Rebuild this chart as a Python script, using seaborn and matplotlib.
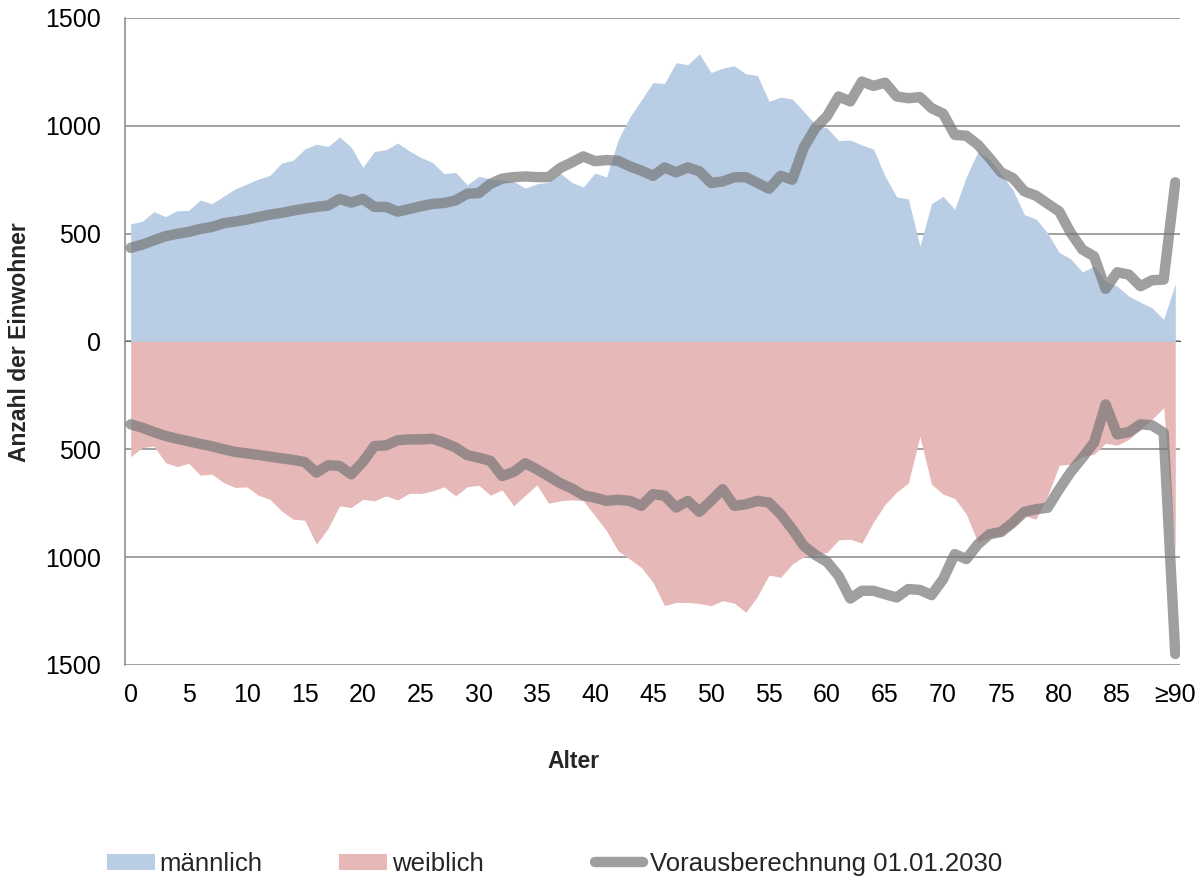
import matplotlib
matplotlib.use('Agg')
import matplotlib.pyplot as plt
import seaborn as sns
import numpy as np

# Einwohner je Altersjahr (0 .. >=90)
male = [545, 557, 602, 579, 606, 608, 656, 639, 673, 707,
        730, 753, 770, 827, 840, 892, 915, 904, 948, 901,
        807, 881, 889, 920, 884, 853, 830, 778, 784, 726,
        766, 753, 748, 742, 711, 731, 738, 781, 738, 716,
        781, 762, 935, 1040, 1120, 1200, 1197, 1293, 1283, 1334,
        1247, 1267, 1278, 1241, 1233, 1113, 1133, 1124, 1066, 1006,
        990, 931, 934, 911, 892, 766, 670, 661, 442, 639,
        673, 612, 764, 880, 845, 775, 704, 588, 568, 503,
        413, 383, 322, 349, 279, 256, 210, 182, 156, 102,
        269]
female = [534, 492, 485, 562, 580, 565, 620, 615, 654, 677,
          674, 713, 732, 786, 824, 829, 940, 867, 762, 770,
          732, 739, 716, 735, 704, 705, 693, 674, 716, 673,
          667, 713, 688, 762, 713, 665, 750, 739, 734, 739,
          808, 878, 971, 1009, 1048, 1117, 1225, 1210, 1210, 1215,
          1225, 1202, 1213, 1256, 1182, 1083, 1094, 1032, 998, 990,
          978, 920, 917, 935, 837, 755, 698, 657, 441, 662,
          708, 728, 801, 932, 909, 901, 863, 809, 824, 716,
          574, 569, 534, 523, 472, 481, 454, 407, 361, 307,
          980]
proj_male = [434, 449, 469, 488, 499, 508, 522, 531, 548, 556,
             565, 577, 588, 596, 607, 616, 624, 630, 661, 644,
             661, 624, 624, 602, 614, 627, 638, 642, 654, 685,
             688, 731, 755, 762, 765, 762, 762, 804, 830, 858,
             836, 841, 838, 812, 792, 768, 807, 784, 807, 789,
             735, 742, 761, 762, 735, 708, 768, 750, 900, 990,
             1045, 1136, 1113, 1205, 1185, 1200, 1136, 1128, 1133, 1082,
             1056, 958, 954, 912, 850, 784, 758, 696, 676, 639,
             603, 503, 426, 395, 244, 321, 310, 256, 284, 287,
             738]
proj_female = [384, 400, 420, 438, 451, 463, 475, 486, 500, 512,
               519, 526, 534, 542, 549, 559, 608, 574, 577, 616,
               559, 485, 482, 458, 454, 454, 451, 469, 492, 527,
               539, 554, 624, 605, 565, 593, 624, 657, 681, 713,
               724, 739, 734, 739, 762, 708, 715, 770, 739, 790,
               739, 685, 762, 755, 739, 747, 801, 870, 948, 990,
               1022, 1087, 1192, 1156, 1156, 1172, 1187, 1148, 1152, 1176,
               1102, 986, 1009, 940, 894, 883, 840, 790, 778, 771,
               685, 605, 539, 469, 292, 431, 420, 384, 389, 423,
               1449]

xtick_pos = [0, 5, 10, 15, 20, 25, 30, 35, 40, 45, 50, 55, 60, 65, 70, 75, 80, 85, 90]
xtick_labels = ['0', '5', '10', '15', '20', '25', '30', '35', '40', '45',
                '50', '55', '60', '65', '70', '75', '80', '85', '≥90']
ytick_vals = [-1500, -1000, -500, 0, 500, 1000, 1500]
ytick_labels = ['1500', '1000', '500', '0', '500', '1000', '1500']

sns.set_style('white')
plt.rcParams['font.family'] = ['Liberation Sans', 'DejaVu Sans']

GRID = '#868686'
fig = plt.figure(figsize=(12.03, 8.76), dpi=100)
ax = fig.add_axes([0.1035, 0.2409, 0.8776, 0.7386])

ages = np.arange(len(male))
ax.fill_between(ages, 0, male, color='#b9cde5', lw=0, label='männlich', zorder=2)
ax.fill_between(ages, 0, -np.array(female), color='#e6b9b8', lw=0, label='weiblich', zorder=2)

line_kw = dict(color='#777777', alpha=0.7, lw=7.5, solid_capstyle='round',
               solid_joinstyle='round', zorder=3)
sns.lineplot(x=ages, y=proj_male, ax=ax, label='Vorausberechnung 01.01.2030', **line_kw)
sns.lineplot(x=ages, y=-np.array(proj_female), ax=ax, legend=False, **line_kw)
if ax.get_legend() is not None:
    ax.get_legend().remove()

ax.set_xlim(-0.53, 90.43)
ax.set_ylim(-1500, 1500)
ax.set_yticks(ytick_vals, ytick_labels)
ax.set_xticks(xtick_pos, xtick_labels)
ax.set_xlabel('')
ax.set_ylabel('')
ax.tick_params(axis='x', length=0, pad=13, labelsize=18, colors='black')
ax.tick_params(axis='y', length=5, width=1.1, color=GRID, direction='out', pad=12,
               labelsize=18, labelcolor='black')
ax.grid(axis='y', color=GRID, lw=1.1)
ax.grid(axis='x', visible=False)
ax.set_axisbelow(True)
for side in ['top', 'right', 'bottom']:
    ax.spines[side].set_visible(False)
ax.spines['left'].set_color(GRID)
ax.spines['left'].set_linewidth(1.1)

# Kategorienachse auf der Nulllinie
sec = ax.secondary_xaxis(0.5)
sec.set_xticks(np.arange(9.5, 90, 10), [])
sec.tick_params(length=4, width=1.1, color=GRID, direction='out')
sec.spines['bottom'].set_color(GRID)
sec.spines['bottom'].set_linewidth(1.1)

fig.text(20 / 1203, 1 - 342 / 876, 'Anzahl der Einwohner', rotation=90,
         ha='center', va='center', fontsize=16.5, fontweight='bold')
fig.text(573 / 1203, 1 - 762 / 876, 'Alter', ha='center', va='center',
         fontsize=16.5, fontweight='bold')

# Legende: drei Einträge nebeneinander, einzeln platziert
handles, labels = ax.get_legend_handles_labels()
entries = [('männlich', 107, 0.2), ('weiblich', 339, 0.2),
           ('Vorausberechnung 01.01.2030', 595, 0.3)]
for name, x0, textpad in entries:
    i = labels.index(name)
    leg = fig.legend([handles[i]], [name], loc='center left',
                     bbox_to_anchor=(x0 / 1203, 1 - 864 / 876),
                     frameon=False, fontsize=18.5, handlelength=1.85,
                     handletextpad=textpad, borderpad=0, borderaxespad=0,
                     handleheight=0.6)

fig.savefig('out.png', dpi=100)
